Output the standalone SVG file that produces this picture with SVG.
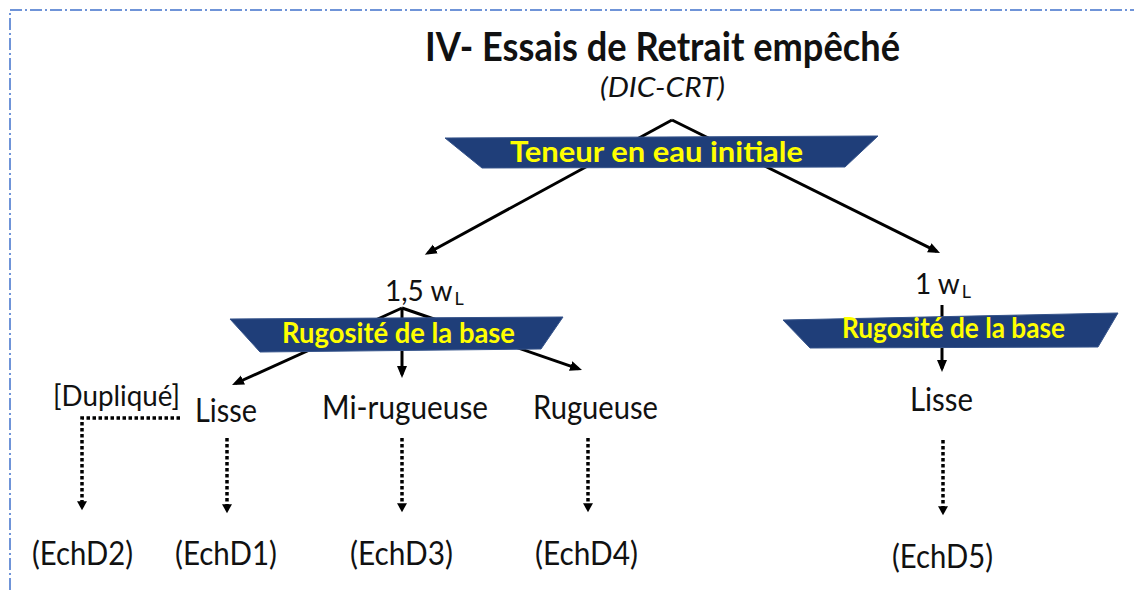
<svg xmlns="http://www.w3.org/2000/svg" width="1134" height="590" viewBox="0 0 1134 590">
<style>
.t{font-family:Lato,"Open Sans","Liberation Sans",sans-serif;fill:#111}
.b{font-weight:bold;fill:#ffff00}
.ban{fill:#1f3e79;stroke:#35538a;stroke-width:1}
.sl{fill:none;stroke:#000;stroke-width:3}
.dl{fill:none;stroke:#000;stroke-width:3.5;stroke-dasharray:3.5 2.5}
.lbl{font-size:32px}
.ech{font-size:32px}
</style>
<defs>
<marker id="ah" markerUnits="userSpaceOnUse" markerWidth="13" markerHeight="11" refX="8.4" refY="5" orient="auto">
<path d="M0,0 L12,5 L0,10 z" fill="#000"/>
</marker>
<marker id="ahd" markerUnits="userSpaceOnUse" markerWidth="10" markerHeight="11" refX="5.8" refY="5" orient="auto">
<path d="M0,0 L9,5 L0,10 z" fill="#000"/>
</marker>
</defs>
<rect width="1134" height="590" fill="#fff"/>
<path d="M10,590 L10,10 L1134,10" fill="none" stroke="#6f94d8" stroke-width="2" stroke-dasharray="12 3 2 3"/>

<g id="title">
<text class="t" x="425" y="61" font-size="40" font-weight="bold" textLength="475" lengthAdjust="spacingAndGlyphs">IV- Essais de Retrait empêché</text>
<text class="t" x="600" y="97" font-size="27" font-style="italic" textLength="125" lengthAdjust="spacingAndGlyphs">(DIC-CRT)</text>
</g>

<g id="connectors">
<path class="sl" d="M672,120 L428,253" marker-end="url(#ah)"/>
<path class="sl" d="M672,120 L936.8,251.4" marker-end="url(#ah)"/>
<path class="sl" d="M402,308 L235.3,383.5" marker-end="url(#ah)"/>
<path class="sl" d="M402,308 L402,374.4" marker-end="url(#ah)"/>
<path class="sl" d="M402,308 L578.6,368.8" marker-end="url(#ah)"/>
<path class="sl" d="M942,305 L942,368.4" marker-end="url(#ah)"/>
<path class="dl" d="M180,418 L82,418 L82,507" marker-end="url(#ahd)"/>
<path class="dl" d="M227,438 L227,510" marker-end="url(#ahd)"/>
<path class="dl" d="M402,438 L402,509" marker-end="url(#ahd)"/>
<path class="dl" d="M588,438 L588,509" marker-end="url(#ahd)"/>
<path class="dl" d="M943,440 L943,512" marker-end="url(#ahd)"/>
</g>

<g id="teneur">
<polygon class="ban" points="445,138 878,136 845,167 482,168"/>
<text class="t b" x="510" y="162" font-size="29" textLength="293" lengthAdjust="spacingAndGlyphs">Teneur en eau initiale</text>
</g>

<g id="w15">
<text class="t" x="385" y="301" font-size="28">1,5 w<tspan font-size="18" dx="2" dy="4">L</tspan></text>
</g>

<g id="w1">
<text class="t" x="915" y="294" font-size="28">1 w<tspan font-size="18" dx="2" dy="4">L</tspan></text>
</g>

<g id="rugo1">
<polygon class="ban" points="230,319 563,317 541,349 260,352"/>
<text class="t b" x="282" y="343" font-size="29" textLength="233" lengthAdjust="spacingAndGlyphs">Rugosité de la base</text>
</g>

<g id="rugo2">
<polygon class="ban" points="783,320 1118,313 1098,347 810,348"/>
<text class="t b" x="842" y="338" font-size="28" textLength="223" lengthAdjust="spacingAndGlyphs">Rugosité de la base</text>
</g>

<g id="duplique">
<text class="t" x="53" y="406" font-size="28" textLength="127" lengthAdjust="spacingAndGlyphs">[Dupliqué]</text>
</g>
<g id="lisse1">
<text class="t lbl" x="195" y="422" textLength="62" lengthAdjust="spacingAndGlyphs">Lisse</text>
</g>
<g id="mirug">
<text class="t lbl" x="322" y="419" textLength="166" lengthAdjust="spacingAndGlyphs">Mi-rugueuse</text>
</g>
<g id="rug">
<text class="t lbl" x="533" y="419" textLength="125" lengthAdjust="spacingAndGlyphs">Rugueuse</text>
</g>
<g id="lisse2">
<text class="t lbl" x="910" y="411" textLength="63" lengthAdjust="spacingAndGlyphs">Lisse</text>
</g>

<g id="echd2"><text class="t ech" x="32" y="565" textLength="101" lengthAdjust="spacingAndGlyphs">(EchD2)</text></g>
<g id="echd1"><text class="t ech" x="175" y="565" textLength="102" lengthAdjust="spacingAndGlyphs">(EchD1)</text></g>
<g id="echd3"><text class="t ech" x="350" y="565" textLength="103" lengthAdjust="spacingAndGlyphs">(EchD3)</text></g>
<g id="echd4"><text class="t ech" x="535" y="565" textLength="103" lengthAdjust="spacingAndGlyphs">(EchD4)</text></g>
<g id="echd5"><text class="t ech" x="892" y="568" textLength="101" lengthAdjust="spacingAndGlyphs">(EchD5)</text></g>
</svg>
